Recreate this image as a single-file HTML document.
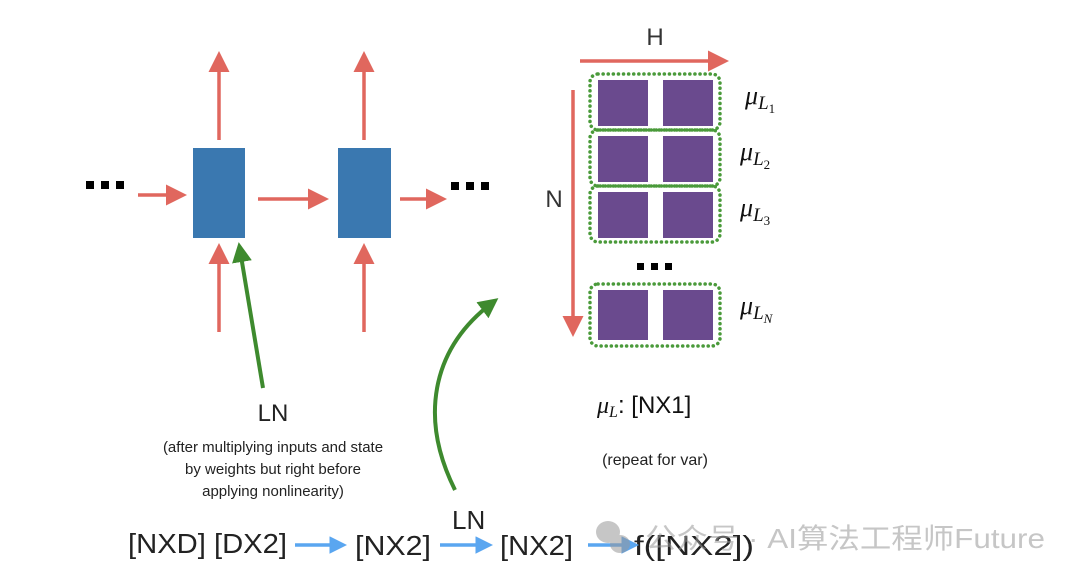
<!DOCTYPE html>
<html><head><meta charset="utf-8"><style>
body{margin:0;background:#fff;width:1080px;height:580px;overflow:hidden}
text{font-family:"Liberation Sans","Noto Sans CJK SC",sans-serif}
.m{font-family:"Liberation Serif",serif;font-style:italic}
</style></head><body>
<svg width="1080" height="580" viewBox="0 0 1080 580" xmlns="http://www.w3.org/2000/svg">
<defs>
<marker id="r" markerWidth="6" markerHeight="6" refX="4" refY="3" orient="auto" markerUnits="strokeWidth"><path d="M0,0 L6,3 L0,6 z" fill="#e0675e"/></marker>
<marker id="g" markerWidth="5" markerHeight="5" refX="3" refY="2.5" orient="auto" markerUnits="strokeWidth"><path d="M0,0 L5,2.5 L0,5 z" fill="#3e8a2e"/></marker>
<marker id="b" markerWidth="5" markerHeight="5" refX="3" refY="2.5" orient="auto" markerUnits="strokeWidth"><path d="M0,0 L5,2.5 L0,5 z" fill="#5aa6f0"/></marker>
</defs>
<g stroke="#e0675e" stroke-width="3.5" fill="none">
<line x1="219" y1="140" x2="219" y2="58" marker-end="url(#r)"/>
<line x1="364" y1="140" x2="364" y2="58" marker-end="url(#r)"/>
<line x1="219" y1="332" x2="219" y2="250" marker-end="url(#r)"/>
<line x1="364" y1="332" x2="364" y2="250" marker-end="url(#r)"/>
<line x1="138" y1="195" x2="180" y2="195" marker-end="url(#r)"/>
<line x1="258" y1="199" x2="322" y2="199" marker-end="url(#r)"/>
<line x1="400" y1="199" x2="440" y2="199" marker-end="url(#r)"/>
<line x1="580" y1="61" x2="722" y2="61" marker-end="url(#r)"/>
<line x1="573" y1="90" x2="573" y2="330" marker-end="url(#r)"/>
</g>
<rect x="193" y="148" width="52" height="90" fill="#3a78b0"/>
<rect x="338" y="148" width="53" height="90" fill="#3a78b0"/>
<g fill="#000"><rect x="86" y="181" width="8" height="8"/><rect x="101" y="181" width="8" height="8"/><rect x="116" y="181" width="8" height="8"/>
<rect x="451" y="182" width="8" height="8"/><rect x="466" y="182" width="8" height="8"/><rect x="481" y="182" width="8" height="8"/>
<rect x="637" y="263" width="7" height="7"/><rect x="651" y="263" width="7" height="7"/><rect x="665" y="263" width="7" height="7"/></g>
<g stroke="#3e8a2e" stroke-width="4" fill="none">
<line x1="263" y1="388" x2="240" y2="250" marker-end="url(#g)"/>
<path d="M455,490 C420,420 430,350 492,303" marker-end="url(#g)"/>
</g>
<g fill="#6a4a8e">
<rect x="598" y="80" width="50" height="46"/><rect x="663" y="80" width="50" height="46"/>
<rect x="598" y="136" width="50" height="46"/><rect x="663" y="136" width="50" height="46"/>
<rect x="598" y="192" width="50" height="46"/><rect x="663" y="192" width="50" height="46"/>
<rect x="598" y="290" width="50" height="50"/><rect x="663" y="290" width="50" height="50"/>
</g>
<g fill="none" stroke="#4a9a3a" stroke-width="3.5" stroke-dasharray="0.1 5" stroke-linecap="round">
<rect x="590" y="74" width="130" height="56" rx="8"/>
<rect x="590" y="130" width="130" height="56" rx="8"/>
<rect x="590" y="186" width="130" height="56" rx="8"/>
<rect x="590" y="284" width="130" height="62" rx="8"/>
</g>
<text x="655" y="45" font-size="24" text-anchor="middle" fill="#333">H</text>
<text x="554" y="207" font-size="24" text-anchor="middle" fill="#333">N</text>
<g font-size="26" class="m" fill="#111">
<text x="745" y="104" class="m">μ<tspan font-size="19" dy="5">L</tspan><tspan font-size="13" dy="4" font-style="normal">1</tspan></text>
<text x="740" y="160" class="m">μ<tspan font-size="19" dy="5">L</tspan><tspan font-size="13" dy="4" font-style="normal">2</tspan></text>
<text x="740" y="216" class="m">μ<tspan font-size="19" dy="5">L</tspan><tspan font-size="13" dy="4" font-style="normal">3</tspan></text>
<text x="740" y="314" class="m">μ<tspan font-size="19" dy="5">L</tspan><tspan font-size="13" dy="4">N</tspan></text>
</g>
<text x="597" y="413" font-size="24" fill="#111"><tspan class="m">μ</tspan><tspan class="m" font-size="16" dy="4">L</tspan><tspan dy="-4">: [NX1]</tspan></text>
<text x="655" y="465" font-size="16" text-anchor="middle" fill="#222">(repeat for var)</text>
<text x="273" y="421" font-size="24" text-anchor="middle" fill="#222">LN</text>
<g font-size="15" text-anchor="middle" fill="#222">
<text x="273" y="452">(after multiplying inputs and state</text>
<text x="273" y="474">by weights but right before</text>
<text x="273" y="496">applying nonlinearity)</text>
</g>
<g font-size="28" fill="#222">
<text x="128" y="553" textLength="159" lengthAdjust="spacingAndGlyphs">[NXD] [DX2]</text>
<text x="355" y="555" textLength="76" lengthAdjust="spacingAndGlyphs">[NX2]</text>
<text x="500" y="555" textLength="73" lengthAdjust="spacingAndGlyphs">[NX2]</text>
<text x="634" y="555" textLength="120" lengthAdjust="spacingAndGlyphs">f([NX2])</text>
<text x="452" y="529" font-size="26">LN</text>
</g>
<g stroke="#5aa6f0" stroke-width="3.5">
<line x1="295" y1="545" x2="340" y2="545" marker-end="url(#b)"/>
<line x1="440" y1="545" x2="486" y2="545" marker-end="url(#b)"/>
<line x1="588" y1="545" x2="632" y2="545" marker-end="url(#b)"/>
</g>
<g opacity="0.55">
<ellipse cx="608" cy="532" rx="12" ry="11" fill="#999"/>
<ellipse cx="620" cy="544" rx="10" ry="9" fill="#999"/>
<text x="645" y="548" font-size="28" fill="#999" textLength="400" lengthAdjust="spacingAndGlyphs">公众号 · AI算法工程师Future</text>
</g>
</svg>
</body></html>
